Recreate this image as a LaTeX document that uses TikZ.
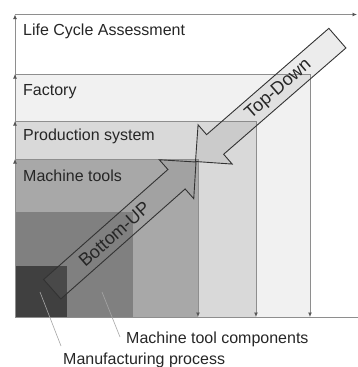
\documentclass[tikz,border=0pt]{standalone}
\usepackage{fontspec}
\setmainfont{Liberation Sans}
\usetikzlibrary{arrows.meta}
\definecolor{cfactory}{HTML}{F1F1F1}
\definecolor{cprod}{HTML}{D9D9D9}
\definecolor{cmt}{HTML}{A8A8A8}
\definecolor{cmtc}{HTML}{808080}
\definecolor{cmp}{HTML}{404040}
\definecolor{edge}{HTML}{8E8E8E}
\definecolor{tipc}{HTML}{555555}
\definecolor{ink}{HTML}{262626}
\tikzset{
  edgeline/.style={draw=edge, line width=0.9pt},
  uparrow/.style={edgeline, -{Latex[length=4.5pt,width=4pt,color=tipc]}},
  levellabel/.style={anchor=base west, inner sep=0pt, text=ink, font=\fontsize{16}{18}\selectfont},
  blockarrow/.style={draw=black!80, line width=0.9pt, fill=gray, fill opacity=0.15},
  arrowtext/.style={inner sep=0pt, text=ink, font=\fontsize{18}{20}\selectfont},
  leader/.style={draw=gray!70, line width=0.6pt}
}
\begin{document}
\begin{tikzpicture}[x=1pt, y=-1pt]
\useasboundingbox (0,0) rectangle (358,367);

% nested levels, filled from the outside in
\fill[cfactory] (15,74) rectangle (310,317);
\fill[cprod] (15,121) rectangle (256,317);
\fill[cmt] (15,159) rectangle (198,317);
\fill[cmtc] (15,212) rectangle (133,317);
\fill[cmp] (15,266) rectangle (67,317);

% axes of the levels
\draw[edgeline] (15,317) -- (358,317);
\draw[uparrow] (15,317) -- (15,14.5);
\draw[uparrow] (15,14.5) -- (357,14.5);
\foreach \yt/\xr in {74/310, 121/256, 159/198}{
  \draw[uparrow] (15,317) -- (15,\yt);
  \draw[edgeline] (15,\yt) -- (\xr,\yt);
  \draw[uparrow] (\xr,\yt) -- (\xr,317);
}

% level names
\node[levellabel] (lca) at (23,35) {Life Cycle Assessment};
\node[levellabel] (fac) at (23,95) {Factory};
\node[levellabel] (prod) at (23,140) {Production system};
\node[levellabel] (mt) at (23,181) {Machine tools};
\node[levellabel] (mtc) at (126,343) {Machine tool components};
\node[levellabel] (mp) at (63,364) {Manufacturing process};

% leaders to the two innermost levels
\coordinate (mtcin) at (102,292);
\coordinate (mtcout) at (120,337);
\coordinate (mpin) at (40,292);
\coordinate (mpout) at (61,346);
\draw[leader] (mtcin) -- (mtcout);
\draw[leader] (mpin) -- (mpout);

% top-down block arrow
\begin{scope}[shift={(195.5,161.5)}, rotate=41]
  \draw[blockarrow] (0,0) -- (26,26) -- (26,13) -- (188,13) -- (188,-13)
    -- (26,-13) -- (26,-26) -- cycle;
  \node[arrowtext, rotate=41] (td) at (110,0) {Top-Down};
\end{scope}

% bottom-up block arrow
\begin{scope}[shift={(196,162)}, rotate=221.5]
  \draw[blockarrow] (0,0) -- (26,26) -- (26,13) -- (192,13) -- (192,-13)
    -- (26,-13) -- (26,-26) -- cycle;
  \node[arrowtext, rotate=41.5] (bu) at (109,0) {Bottom-UP};
\end{scope}
\end{tikzpicture}
\end{document}
